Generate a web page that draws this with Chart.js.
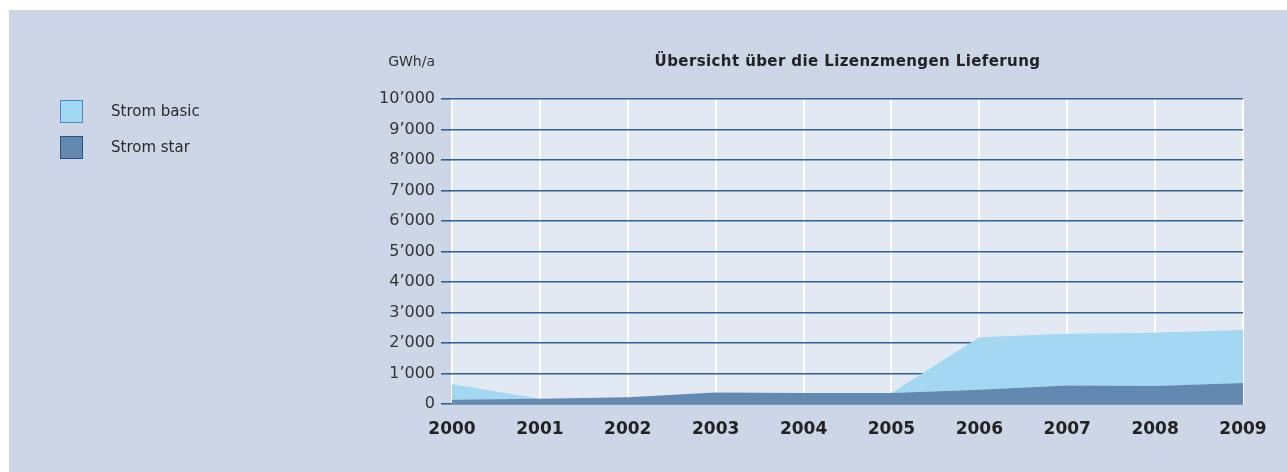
<!DOCTYPE html>
<html>
<head>
<meta charset="utf-8">
<script src="https://cdn.jsdelivr.net/npm/chart.js@4/dist/chart.umd.min.js"></script>
<style>
	body { margin: 0; background: #fff; font-family: "DejaVu Sans", sans-serif; }
	#card { position: absolute; left: 9px; top: 10px; width: 1278px; height: 462px; background: #cdd6e6; }
	#legend { position: absolute; left: 51px; top: 89px; }
	.item { position: relative; height: 36px; width: 200px; font-size: 15px; color: #2a2a2a; white-space: nowrap; }
	.box { position: absolute; left: 0; top: 1px; width: 21px; height: 21px; border: 1px solid; }
	.item span { position: absolute; left: 51px; top: 3px; }
</style>
</head>
<body>
<div id="card">
	<canvas id="myChart"></canvas>
	<div id="legend"></div>
</div>
<script>
const years = ['2000', '2001', '2002', '2003', '2004', '2005', '2006', '2007', '2008', '2009']
const stromStar = [140, 170, 220, 380, 360, 360, 470, 610, 590, 690]
const stromBasic = [510, 0, 0, 0, 0, 0, 1720, 1690, 1750, 1740]
const seriesNames = ['Strom basic', 'Strom star']
const yTicks = [0, 1000, 2000, 3000, 4000, 5000, 6000, 7000, 8000, 9000, 10000]

const colBasic = '#a3d7f2'
const colStar = '#6389b0'
const gridBlue = '#2f6295'

// legend (basic first, star second like the original)
const legend = document.getElementById('legend')
const legendCols = [[colBasic, '#3f8bc0'], [colStar, '#1f5587']]
seriesNames.forEach((name, i) => {
	let item = document.createElement('div')
	item.className = 'item'
	item.innerHTML = '<div class="box" style="background:' + legendCols[i][0] + ';border-color:' + legendCols[i][1] + '"></div><span>' + name + '</span>'
	legend.appendChild(item)
})

function fmt(v){
	return v.toString().replace(/\B(?=(\d{3})+(?!\d))/g, '\u2019')
}

const plotBg = {
	id: 'plotBg',
	beforeDraw(chart){
		const ctx = chart.ctx
		const a = chart.chartArea
		ctx.save()
		ctx.fillStyle = '#e2e9f2'
		ctx.fillRect(a.left, a.top, a.right - a.left, a.bottom - a.top)
		ctx.restore()
	},
	afterDraw(chart){
		const ctx = chart.ctx
		const a = chart.chartArea
		ctx.save()
		ctx.fillStyle = '#222'
		ctx.textBaseline = 'middle'
		ctx.font = 'bold 15px "DejaVu Sans"'
		ctx.letterSpacing = '0.4px'
		ctx.textAlign = 'center'
		ctx.fillText('Übersicht über die Lizenzmengen Lieferung', (a.left + a.right) / 2, 52)
		ctx.letterSpacing = '0px'
		ctx.font = '14px "DejaVu Sans"'
		ctx.fillStyle = '#333'
		ctx.textAlign = 'right'
		ctx.fillText('GWh/a', 426, 52)
		ctx.restore()
	}
}

const ctx = document.getElementById('myChart').getContext('2d')
let myChart = new Chart(ctx, {
	type: 'line',
	data: {
		labels: years,
		datasets: [{
			label: seriesNames[1],
			data: stromStar,
			backgroundColor: colStar,
			borderWidth: 0,
			pointRadius: 0,
			fill: 'origin',
			tension: 0,
		}, {
			label: seriesNames[0],
			data: stromBasic,
			backgroundColor: colBasic,
			borderWidth: 0,
			pointRadius: 0,
			fill: '-1',
			tension: 0,
		}]
	},
	options: {
		responsive: true,
		maintainAspectRatio: false,
		animation: false,
		layout: { padding: { top: 89, right: 44, left: 0, bottom: 0 } },
		plugins: {
			legend: { display: false },
			tooltip: { enabled: false },
		},
		scales: {
			x: {
				z: 1,
				offset: false,
				afterFit(scale){ scale.height = 68 },
				border: { display: false },
				grid: {
					color: '#ffffff',
					lineWidth: 2,
					drawTicks: false,
				},
				ticks: {
					autoSkip: false,
					maxRotation: 0,
					padding: 15,
					color: '#222',
					font: { family: 'DejaVu Sans', size: 17, weight: 'bold' },
				}
			},
			y: {
				z: 2,
				stacked: true,
				min: 0,
				max: 10000,
				afterFit(scale){ scale.width = 443 },
				afterBuildTicks(scale){ scale.ticks = yTicks.map(v => ({ value: v })) },
				border: { display: false },
				grid: {
					color: gridBlue,
					lineWidth: 1.6,
					tickColor: gridBlue,
					tickLength: 11,
				},
				ticks: {
					padding: 6,
					color: '#333',
					font: { family: 'DejaVu Sans', size: 16 },
					callback: v => fmt(v),
				}
			}
		}
	},
	plugins: [plotBg]
})
</script>
</body>
</html>
